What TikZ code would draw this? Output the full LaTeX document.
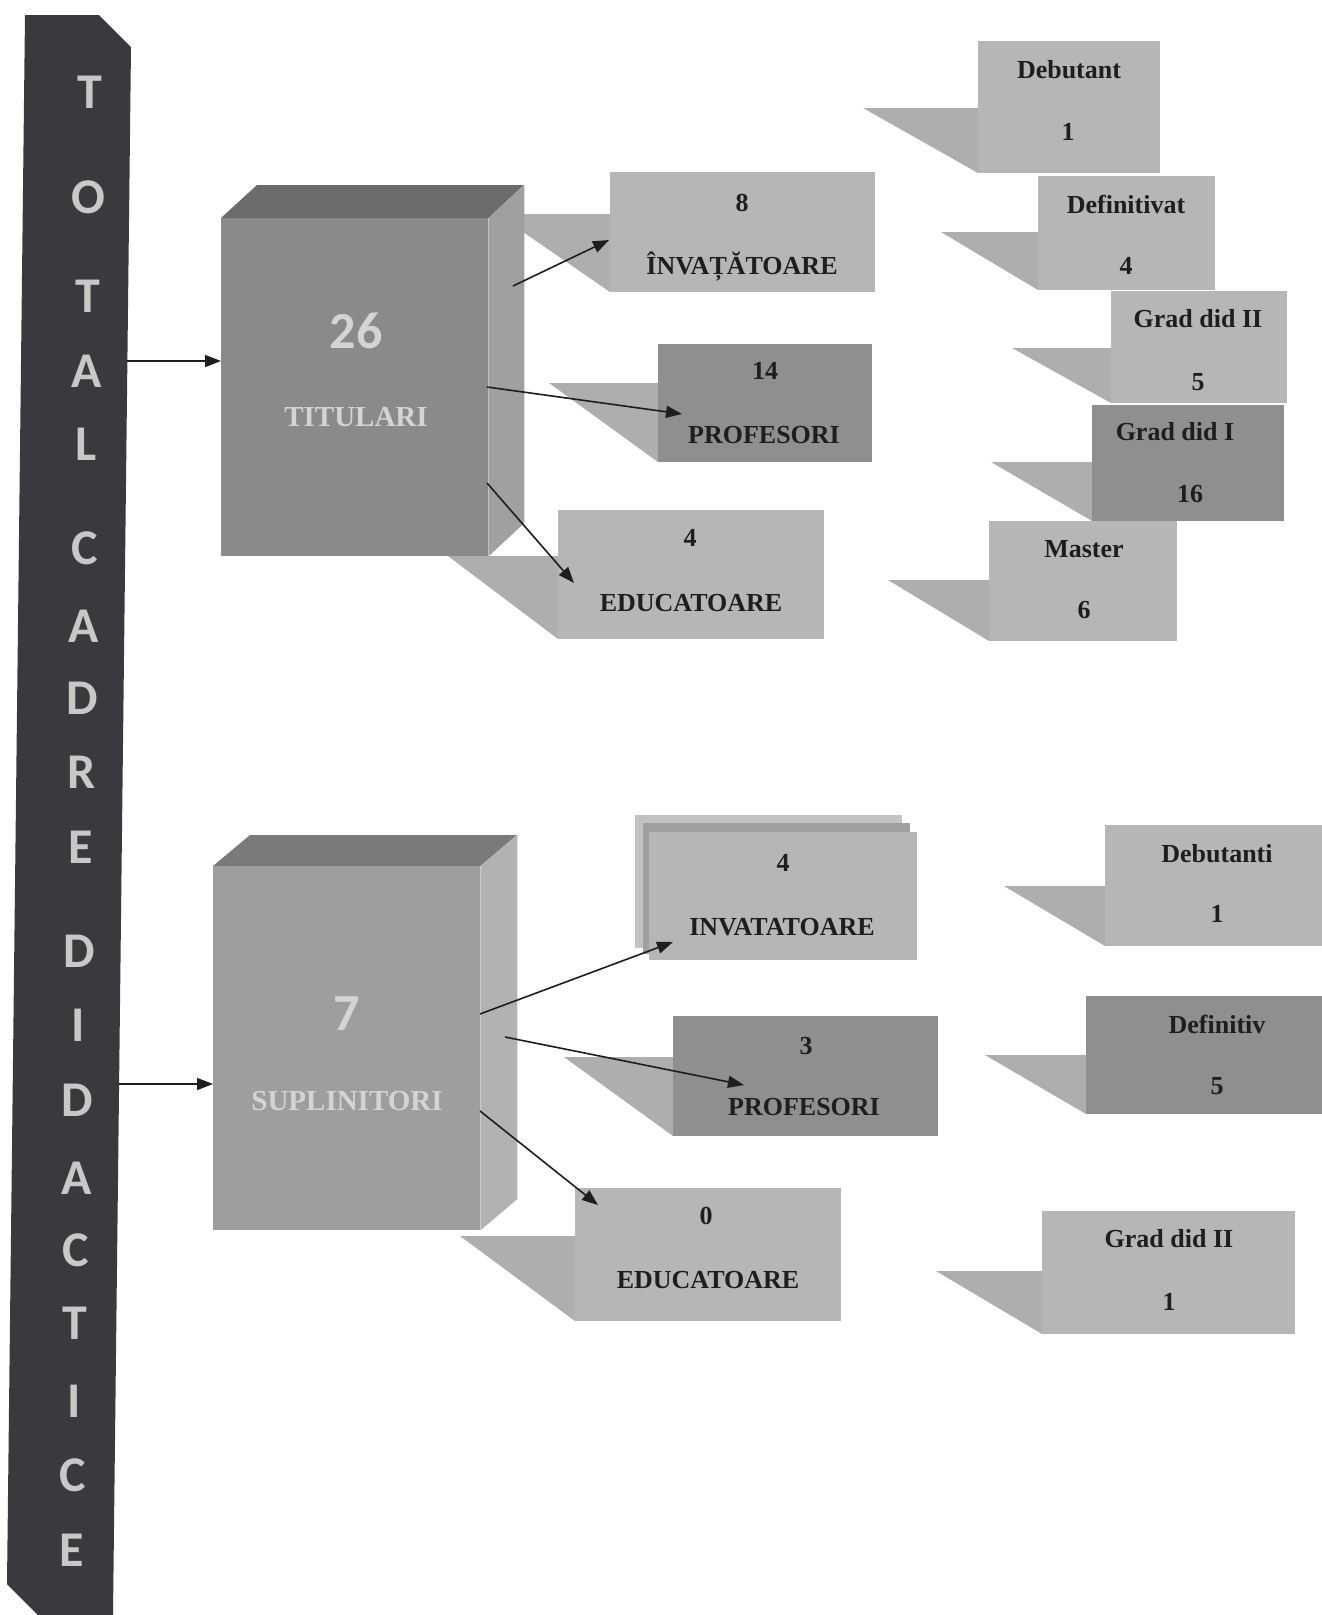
\documentclass[tikz,border=0pt]{standalone}
\usepackage{fontspec}
\setmainfont{Liberation Serif}
\newfontfamily\calib{Carlito}
\usetikzlibrary{arrows.meta}
\definecolor{barc}{HTML}{3A3A3E}
\definecolor{barlc}{HTML}{C8C8C8}
\definecolor{boxl}{HTML}{B6B6B6}
\definecolor{boxd}{HTML}{8F8F8F}
\definecolor{shadc}{HTML}{AEAEAE}
\definecolor{txtc}{HTML}{1E1E1E}
\definecolor{arrc}{HTML}{1E1E1E}
\definecolor{cubeAf}{HTML}{8A8A8A}
\definecolor{cubeAt}{HTML}{6C6C6C}
\definecolor{cubeAr}{HTML}{A0A0A0}
\definecolor{cubeBf}{HTML}{9E9E9E}
\definecolor{cubeBt}{HTML}{7A7A7A}
\definecolor{cubeBr}{HTML}{B2B2B2}
\definecolor{cubetxt}{HTML}{D4D4D4}
\begin{document}
\begin{tikzpicture}[x=1pt,y=-1pt,
  shd/.style={fill=shadc},
  lbox/.style={fill=boxl,inner sep=0pt,anchor=north west},
  dbox/.style={fill=boxd,inner sep=0pt,anchor=north west},
  txt/.style={font=\fontsize{26}{30}\selectfont\bfseries,text=txtc,anchor=base,yshift=-8.6pt,inner sep=0pt},
  barl/.style={font=\calib\bfseries\fontsize{50}{60}\selectfont,text=barlc,anchor=base,yshift=-16pt,inner sep=0pt},
  bignum/.style={font=\calib\bfseries\fontsize{52}{60}\selectfont,text=cubetxt,anchor=base,yshift=-16.5pt,inner sep=0pt},
  cubelbl/.style={font=\fontsize{29}{34}\selectfont\bfseries,text=cubetxt,anchor=base,yshift=-9.6pt,inner sep=0pt},
  conn/.style={draw=arrc,line width=1.6pt,-{Triangle[length=16pt,width=12pt]}}]
\useasboundingbox (0,0) rectangle (1322,1615);
\fill[white] (0,0) rectangle (1322,1615);

% ---------- vertical bar ----------
\fill[barc] (25,15) -- (99,15) -- (131,47) -- (113,1615) -- (38,1615) -- (7,1584) -- cycle;
\foreach \l/\yy/\xx [count=\i] in {T/92/90,O/197/88.7,T/296/87.5,A/371/86.6,L/444/85.7,C/548/84.4,A/626/83.4,D/698/82.5,R/772/81.6,E/847/80.7,D/951/79.4,I/1025/78.5,D/1100/77.6,A/1178/76.6,C/1250/75.7,T/1323/74.8,I/1401/73.9,C/1475/73,E/1550/72}
  \node[barl] (bar\i) at (\xx,\yy) {\l};

% ---------- shadows (upper) ----------
\fill[shd] (497,214) -- (610,214) -- (610,292) -- cycle;
\fill[shd] (549,383) -- (658,383) -- (658,462) -- cycle;
\fill[shd] (448,556) -- (558,556) -- (558,639) -- cycle;
\fill[shd] (863,108) -- (978,108) -- (978,173) -- cycle;
\fill[shd] (941,232) -- (1038,232) -- (1038,290) -- cycle;
\fill[shd] (1012,348) -- (1111,348) -- (1111,403) -- cycle;
\fill[shd] (991,462) -- (1092,462) -- (1092,521) -- cycle;
\fill[shd] (888,580) -- (989,580) -- (989,641) -- cycle;
% ---------- shadows (lower) ----------
\fill[shd] (564,1057) -- (673,1057) -- (673,1136) -- cycle;
\fill[shd] (460,1236) -- (575,1236) -- (575,1321) -- cycle;
\fill[shd] (1004,886) -- (1105,886) -- (1105,946) -- cycle;
\fill[shd] (985,1055) -- (1086,1055) -- (1086,1114) -- cycle;
\fill[shd] (936,1271) -- (1042,1271) -- (1042,1334) -- cycle;

% ---------- cube TITULARI ----------
\node[fill=cubeAf,inner sep=0pt,anchor=north west,minimum width=267pt,minimum height=338pt] (tit) at (221,218) {};
\fill[cubeAt] (tit.north west) -- ++(36,-33) -- ++(267,0) -- (tit.north east) -- cycle;
\fill[cubeAr] (tit.north east) -- ++(36,-33) -- ++(0,338) -- (tit.south east) -- cycle;
\node[bignum] (titn) at (356,332) {26};
\node[cubelbl] (titl) at (356,417) {TITULARI};

% ---------- cube SUPLINITORI ----------
\node[fill=cubeBf,inner sep=0pt,anchor=north west,minimum width=267pt,minimum height=364pt] (sup) at (213,866) {};
\fill[cubeBt] (sup.north west) -- ++(37,-31) -- ++(267,0) -- (sup.north east) -- cycle;
\fill[cubeBr] (sup.north east) -- ++(37,-31) -- ++(0,364) -- (sup.south east) -- cycle;
\node[bignum] (supn) at (347,1014) {7};
\node[cubelbl] (supl) at (347,1101) {SUPLINITORI};

% ---------- middle boxes (upper) ----------
\node[lbox,minimum width=265pt,minimum height=120pt] (inv8) at (610,172) {};
\node[txt] (inv8n) at (742,203) {8};
\node[txt] (inv8l) at (742,266) {ÎNVAȚĂTOARE};
\node[dbox,minimum width=214pt,minimum height=118pt] (prof14) at (658,344) {};
\node[txt] (prof14n) at (765,371) {14};
\node[txt] (prof14l) at (764,435) {PROFESORI};
\node[lbox,minimum width=266pt,minimum height=129pt] (edu4) at (558,510) {};
\node[txt] (edu4n) at (690,538) {4};
\node[txt] (edu4l) at (691,603) {EDUCATOARE};

% ---------- right boxes (upper) ----------
\node[lbox,minimum width=182pt,minimum height=132pt] (deb) at (978,41) {};
\node[txt] (debl) at (1069,70) {Debutant};
\node[txt] (debn) at (1068,132) {1};
\node[lbox,minimum width=177pt,minimum height=114pt] (def) at (1038,176) {};
\node[txt] (defl) at (1126,205) {Definitivat};
\node[txt] (defn) at (1126,266) {4};
\node[lbox,minimum width=176pt,minimum height=112pt] (g2) at (1111,291) {};
\node[txt] (g2l) at (1198,319) {Grad did II};
\node[txt] (g2n) at (1198,382) {5};
\node[dbox,minimum width=192pt,minimum height=116pt] (g1) at (1092,405) {};
\node[txt] (g1l) at (1175,432) {Grad did I};
\node[txt] (g1n) at (1190,494) {16};
\node[lbox,minimum width=188pt,minimum height=120pt] (mas) at (989,521) {};
\node[txt] (masl) at (1084,549) {Master};
\node[txt] (masn) at (1084,610) {6};

% ---------- middle boxes (lower) ----------
\fill[shadc!75!white] (635,815) rectangle (902,948);
\fill[boxl!88!black] (643,823) rectangle (910,954);
\node[lbox,minimum width=268pt,minimum height=128pt] (inv4) at (649,832) {};
\node[txt] (inv4n) at (783,863) {4};
\node[txt] (inv4l) at (782,927) {INVATATOARE};
\node[dbox,minimum width=265pt,minimum height=120pt] (prof3) at (673,1016) {};
\node[txt] (prof3n) at (806,1046) {3};
\node[txt] (prof3l) at (804,1107) {PROFESORI};
\node[lbox,minimum width=266pt,minimum height=133pt] (edu0) at (575,1188) {};
\node[txt] (edu0n) at (706,1216) {0};
\node[txt] (edu0l) at (708,1280) {EDUCATOARE};

% ---------- right boxes (lower) ----------
\node[lbox,minimum width=217pt,minimum height=121pt] (debs) at (1105,825) {};
\node[txt] (debsl) at (1217,854) {Debutanti};
\node[txt] (debsn) at (1217,914) {1};
\node[dbox,minimum width=236pt,minimum height=118pt] (defs) at (1086,996) {};
\node[txt] (defsl) at (1217,1025) {Definitiv};
\node[txt] (defsn) at (1217,1086) {5};
\node[lbox,minimum width=253pt,minimum height=123pt] (g2s) at (1042,1211) {};
\node[txt] (g2sl) at (1169,1239) {Grad did II};
\node[txt] (g2sn) at (1169,1302) {1};

% ---------- connectors ----------
\coordinate (b1) at (127,361);
\coordinate (t0) at (221,361);
\coordinate (b2) at (119,1084);
\coordinate (s0) at (213,1084);
\coordinate (t1s) at (513,286);
\coordinate (t1e) at (609,240);
\coordinate (t2s) at (487,387);
\coordinate (t2e) at (682,414);
\coordinate (t3s) at (487,483);
\coordinate (t3e) at (574,583);
\coordinate (s1s) at (480,1014);
\coordinate (s1e) at (673,942);
\coordinate (s2s) at (505,1037);
\coordinate (s2e) at (744,1085);
\coordinate (s3s) at (480,1111);
\coordinate (s3e) at (598,1205);
\draw[conn] (b1) -- (t0);
\draw[conn] (b2) -- (s0);
\draw[conn] (t1s) -- (t1e);
\draw[conn] (t2s) -- (t2e);
\draw[conn] (t3s) -- (t3e);
\draw[conn] (s1s) -- (s1e);
\draw[conn] (s2s) -- (s2e);
\draw[conn] (s3s) -- (s3e);
\end{tikzpicture}
\end{document}
